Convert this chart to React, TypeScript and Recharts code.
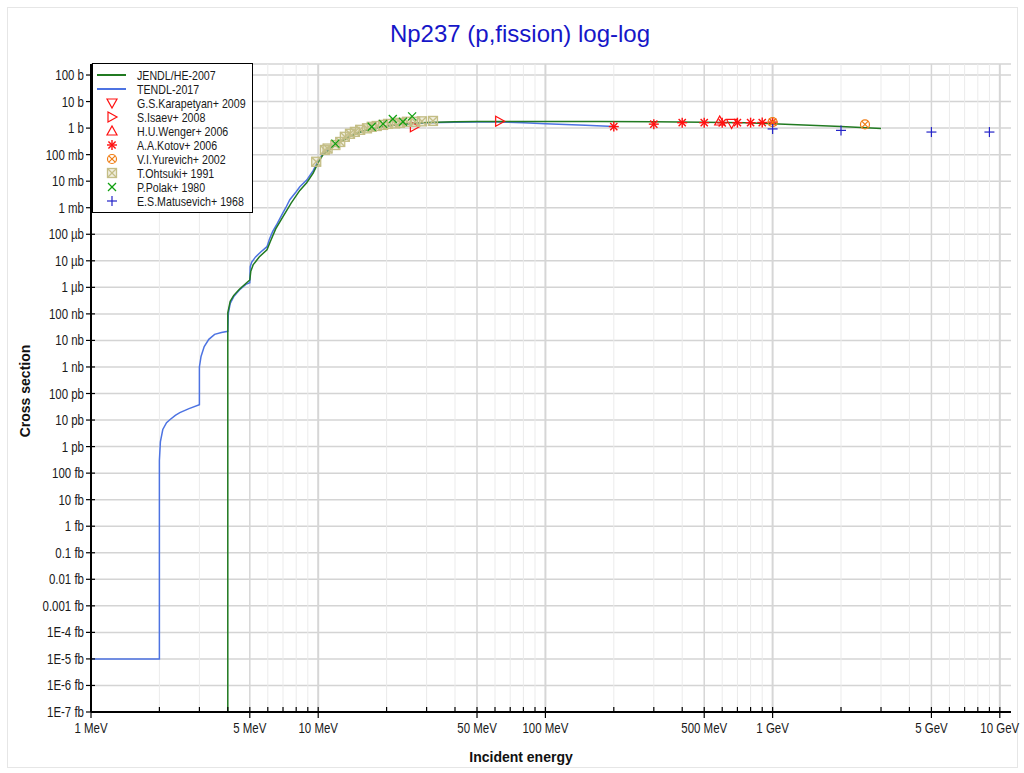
import React from 'react';
import { ComposedChart, Line, Scatter, XAxis, YAxis, CartesianGrid, ReferenceLine, Legend } from 'recharts';

const SANS = '"Liberation Sans", Arial, Helvetica, sans-serif';
const NARROW_SCALE = 0.82;

// ---- axis ticks (energy in MeV, cross section in barns) ----
const xMajorTicks = [1, 5, 10, 50, 100, 500, 1000, 5000, 10000];
const xMajorLabels = ['1 MeV', '5 MeV', '10 MeV', '50 MeV', '100 MeV', '500 MeV', '1 GeV', '5 GeV', '10 GeV'];
const xDecadeTicks = [10, 100, 1000, 10000];
const xMinorTicks = [2, 3, 4, 6, 7, 8, 9, 20, 30, 40, 60, 70, 80, 90, 200, 300, 400, 600, 700, 800, 900, 2000, 3000, 4000, 6000, 7000, 8000, 9000];
const xAllTicks = [...xMajorTicks, ...xMinorTicks].sort((a, b) => a - b);

const yTicks = [1e2, 1e1, 1, 1e-1, 1e-2, 1e-3, 1e-4, 1e-5, 1e-6, 1e-7, 1e-8, 1e-9, 1e-10, 1e-11, 1e-12, 1e-13, 1e-14, 1e-15, 1e-16, 1e-17, 1e-18, 1e-19, 1e-20, 1e-21, 1e-22];
const yTickLabels = ['100 b', '10 b', '1 b', '100 mb', '10 mb', '1 mb', '100 µb', '10 µb', '1 µb', '100 nb', '10 nb', '1 nb', '100 pb', '10 pb', '1 pb', '100 fb', '10 fb', '1 fb', '0.1 fb', '0.01 fb', '0.001 fb', '1E-4 fb', '1E-5 fb', '1E-6 fb', '1E-7 fb'];

const xDomain = [1, 11200];
const yDomain = [1e-22, 260];

// ---- evaluated data ----
const tendlE = [1, 2, 2, 2.02, 2.07, 2.15, 2.23, 2.35, 2.46, 2.7, 3, 3, 3.05, 3.15, 3.3, 3.5, 3.75, 4, 4.02, 4.1, 4.25, 4.5, 4.8, 5, 5.02, 5.1, 5.3, 5.6, 5.95, 6.1, 6.3, 6.6, 7, 7.2, 7.5, 8, 8.3, 8.9, 9.5, 10, 10.5, 11.6, 12.5, 13.8, 15, 16.4, 19.2, 22, 26, 30, 40, 50, 60, 80, 100, 150, 200];
const tendlXS = [1e-20, 1e-20, 3e-13, 1.5e-12, 4.4e-12, 8e-12, 1.05e-11, 1.5e-11, 1.9e-11, 2.7e-11, 3.8e-11, 1.0e-9, 2.5e-9, 5.9e-9, 1.1e-8, 1.7e-8, 2.0e-8, 2.2e-8, 1.0e-7, 2.5e-7, 4.5e-7, 8e-7, 1.3e-6, 1.5e-6, 6e-6, 9e-6, 1.4e-5, 2.2e-5, 3.4e-5, 6.5e-5, 1.26e-4, 2.5e-4, 6.5e-4, 1.0e-3, 2.0e-3, 4.0e-3, 6.2e-3, 1.1e-2, 2.5e-2, 0.058, 0.11, 0.21, 0.32, 0.5, 0.68, 0.86, 1.15, 1.33, 1.48, 1.58, 1.67, 1.7, 1.7, 1.6, 1.45, 1.28, 1.15];

const jendlE = [4, 4, 4.1, 4.25, 4.5, 4.8, 5, 5.05, 5.17, 5.5, 5.95, 6.15, 6.5, 7, 7.6, 8.3, 8.9, 9.5, 10, 10.5, 11.6, 12.5, 13.8, 15, 16.4, 19.2, 22, 26, 30, 40, 50, 70, 100, 174, 300, 500, 765, 1000, 2000, 3000];
const jendlXS = [1e-22, 1.1e-7, 3e-7, 5e-7, 8.5e-7, 1.4e-6, 1.9e-6, 4e-6, 7e-6, 1.4e-5, 2.6e-5, 5.2e-5, 1.6e-4, 4.6e-4, 1.5e-3, 4.5e-3, 8.7e-3, 0.02, 0.05, 0.1, 0.19, 0.3, 0.48, 0.67, 0.85, 1.15, 1.35, 1.52, 1.62, 1.72, 1.76, 1.78, 1.77, 1.77, 1.72, 1.66, 1.6, 1.45, 1.15, 0.97];

// ---- experimental data ----
const karapetyanE = [660];
const karapetyanXS = [1.5];
const isaevE = [26.5, 62.9];
const isaevXS = [1.12, 1.8];
const wengerE = [585];
const wengerXS = [1.85];
const kotovE = [200, 300, 400, 500, 600, 700, 800, 900, 1000];
const kotovXS = [1.14, 1.41, 1.6, 1.6, 1.58, 1.6, 1.6, 1.62, 1.68];
const yurevichE = [1000, 2550];
const yurevichXS = [1.68, 1.38];
const ohtsukiE = [9.8, 10.7, 11.0, 11.9, 12.5, 13.1, 13.8, 14.5, 15.3, 16.4, 17.2, 18.1, 19.3, 20.3, 21.8, 22.9, 24.6, 26.7, 28.6, 32.0];
const ohtsukiXS = [0.054, 0.15, 0.17, 0.23, 0.3, 0.47, 0.61, 0.72, 0.86, 0.98, 1.12, 1.2, 1.32, 1.44, 1.5, 1.58, 1.73, 1.73, 1.8, 1.86];
const polakE = [11.9, 17.2, 19.3, 21.3, 23.6, 25.9];
const polakXS = [0.26, 1.12, 1.44, 2.2, 1.73, 2.76];
const matusevichE = [1000, 2000, 5000, 9000];
const matusevichXS = [0.93, 0.82, 0.71, 0.71];

const pts = (xs: number[], ys: number[]) => xs.map((x, i) => ({ x, y: ys[i] }));

const GREEN = '#217a21';
const BLUE = '#4d73e2';
const RED = '#ff1010';
const ORANGE = '#f07d14';
const KHAKI = '#c4be86';
const LGREEN = '#10a010';
const DBLUE = '#2424c8';

type MarkerKind = 'triDown' | 'triRight' | 'triUp' | 'star' | 'circX' | 'sqX' | 'cross' | 'plus';

function Marker({ kind, cx, cy }: { kind: MarkerKind; cx: number; cy: number }) {
  const s = 5;
  switch (kind) {
    case 'triDown':
      return <polygon points={`${cx - s},${cy - s + 1} ${cx + s},${cy - s + 1} ${cx},${cy + s}`} fill="none" stroke={RED} strokeWidth={1.2} />;
    case 'triRight':
      return <polygon points={`${cx - s + 1},${cy - s} ${cx - s + 1},${cy + s} ${cx + s},${cy}`} fill="none" stroke={RED} strokeWidth={1.2} />;
    case 'triUp':
      return <polygon points={`${cx - s},${cy + s - 1} ${cx + s},${cy + s - 1} ${cx},${cy - s}`} fill="none" stroke={RED} strokeWidth={1.2} />;
    case 'star':
      return (
        <g stroke={RED} strokeWidth={1.4}>
          <line x1={cx - s} y1={cy} x2={cx + s} y2={cy} />
          <line x1={cx} y1={cy - s} x2={cx} y2={cy + s} />
          <line x1={cx - 3.6} y1={cy - 3.6} x2={cx + 3.6} y2={cy + 3.6} />
          <line x1={cx - 3.6} y1={cy + 3.6} x2={cx + 3.6} y2={cy - 3.6} />
        </g>
      );
    case 'circX':
      return (
        <g stroke={ORANGE} strokeWidth={1.2} fill="none">
          <circle cx={cx} cy={cy} r={s - 0.5} />
          <line x1={cx - 3.2} y1={cy - 3.2} x2={cx + 3.2} y2={cy + 3.2} />
          <line x1={cx - 3.2} y1={cy + 3.2} x2={cx + 3.2} y2={cy - 3.2} />
        </g>
      );
    case 'sqX':
      return (
        <g stroke={KHAKI} strokeWidth={1.3} fill="rgba(205,200,150,0.3)">
          <rect x={cx - s + 0.5} y={cy - s + 0.5} width={2 * s - 1} height={2 * s - 1} />
          <line x1={cx - s + 0.5} y1={cy - s + 0.5} x2={cx + s - 0.5} y2={cy + s - 0.5} />
          <line x1={cx - s + 0.5} y1={cy + s - 0.5} x2={cx + s - 0.5} y2={cy - s + 0.5} />
        </g>
      );
    case 'cross':
      return (
        <g stroke={LGREEN} strokeWidth={1.2}>
          <line x1={cx - 4} y1={cy - 4} x2={cx + 4} y2={cy + 4} />
          <line x1={cx - 4} y1={cy + 4} x2={cx + 4} y2={cy - 4} />
        </g>
      );
    case 'plus':
    default:
      return (
        <g stroke={DBLUE} strokeWidth={1.2}>
          <line x1={cx - s} y1={cy} x2={cx + s} y2={cy} />
          <line x1={cx} y1={cy - s} x2={cx} y2={cy + s} />
        </g>
      );
  }
}

const shapeOf = (kind: MarkerKind) => (props: any) => <Marker kind={kind} cx={props.cx} cy={props.cy} />;

const expSeries: { name: string; kind: MarkerKind; e: number[]; xs: number[] }[] = [
  { name: 'G.S.Karapetyan+ 2009', kind: 'triDown', e: karapetyanE, xs: karapetyanXS },
  { name: 'S.Isaev+ 2008', kind: 'triRight', e: isaevE, xs: isaevXS },
  { name: 'H.U.Wenger+ 2006', kind: 'triUp', e: wengerE, xs: wengerXS },
  { name: 'A.A.Kotov+ 2006', kind: 'star', e: kotovE, xs: kotovXS },
  { name: 'V.I.Yurevich+ 2002', kind: 'circX', e: yurevichE, xs: yurevichXS },
  { name: 'T.Ohtsuki+ 1991', kind: 'sqX', e: ohtsukiE, xs: ohtsukiXS },
  { name: 'P.Polak+ 1980', kind: 'cross', e: polakE, xs: polakXS },
  { name: 'E.S.Matusevich+ 1968', kind: 'plus', e: matusevichE, xs: matusevichXS },
];

// narrow text: Liberation Sans squeezed horizontally
function NText({ x, y, anchor, size, children }: { x: number; y: number; anchor: 'start' | 'middle' | 'end'; size: number; children: React.ReactNode }) {
  return (
    <text
      transform={`translate(${x},${y}) scale(${NARROW_SCALE},1)`}
      x={0}
      y={0}
      textAnchor={anchor}
      fontSize={size}
      fontFamily={SANS}
      fill="#1a1a1a"
    >
      {children}
    </text>
  );
}

function XTick(props: any) {
  const { x, y, payload } = props;
  const v = payload.value;
  const idx = xMajorTicks.indexOf(v);
  const major = idx >= 0;
  return (
    <g>
      <line x1={x} x2={x} y1={y - 5} y2={major ? y + 6 : y} stroke="#000" strokeWidth={1.2} />
      {major && (
        <NText x={x} y={y + 21} anchor="middle" size={14}>
          {xMajorLabels[idx]}
        </NText>
      )}
    </g>
  );
}

function YTick(props: any) {
  const { x, y, payload } = props;
  const exp = Math.round(Math.log10(payload.value));
  const label = yTickLabels[2 - exp];
  return (
    <g>
      <line x1={x + 2} x2={x + 11} y1={y} y2={y} stroke="#000" strokeWidth={1.2} />
      <NText x={x} y={y + 5} anchor="end" size={14}>
        {label}
      </NText>
    </g>
  );
}

function LegendBox() {
  const rows: { name: string; line?: string; kind?: MarkerKind }[] = [
    { name: 'JENDL/HE-2007', line: GREEN },
    { name: 'TENDL-2017', line: BLUE },
    ...expSeries.map((s) => ({ name: s.name, kind: s.kind })),
  ];
  return (
    <div style={{ width: 161, height: 150, border: '1px solid #000', background: '#fff', boxSizing: 'border-box' }}>
      <svg width={159} height={148} style={{ display: 'block' }}>
        {rows.map((r, i) => {
          const cy = 11 + i * 14;
          return (
            <g key={r.name}>
              {r.line ? (
                <line x1={4} x2={33} y1={cy} y2={cy} stroke={r.line} strokeWidth={2} />
              ) : (
                <Marker kind={r.kind as MarkerKind} cx={19} cy={cy} />
              )}
              <NText x={44} y={cy + 4.5} anchor="start" size={13}>
                {r.name}
              </NText>
            </g>
          );
        })}
      </svg>
    </div>
  );
}

export default function App() {
  const tendl = pts(tendlE, tendlXS);
  const jendl = pts(jendlE, jendlXS);
  return (
    <div style={{ position: 'absolute', left: 0, top: 0, width: 1024, height: 773, background: '#fff', overflow: 'hidden' }}>
      <div style={{ position: 'absolute', left: 7, top: 7, width: 1009, height: 759, border: '1px solid #e6e6e6' }} />
      <div style={{ position: 'absolute', left: 0, top: 0 }}>
        <ComposedChart width={1024} height={773} margin={{ top: 64, right: 13, bottom: 0, left: 0 }}>
          <CartesianGrid vertical={false} stroke="#d4d4d4" strokeWidth={1.5} />
          {xMinorTicks.map((v) => (
            <ReferenceLine key={'mn' + v} x={v} stroke="#ebebeb" strokeWidth={1} />
          ))}
          {xMajorTicks.filter((v) => v > 1).map((v) => (
            <ReferenceLine key={'mj' + v} x={v} stroke="#d6d6d6" strokeWidth={xDecadeTicks.includes(v) ? 2 : 1.5} />
          ))}
          <XAxis
            dataKey="x"
            type="number"
            scale="log"
            domain={xDomain}
            allowDataOverflow
            ticks={xAllTicks}
            interval={0}
            tick={(p: any) => <XTick {...p} />}
            tickLine={false}
            tickSize={0}
            tickMargin={0}
            height={61}
            axisLine={{ stroke: '#000', strokeWidth: 2 }}
          />
          <XAxis
            xAxisId="top"
            orientation="top"
            dataKey="x"
            type="number"
            scale="log"
            domain={xDomain}
            allowDataOverflow
            ticks={xAllTicks}
            interval={0}
            tick={false}
            mirror
            tickSize={4}
            height={0}
            tickLine={{ stroke: '#000' }}
            axisLine={{ stroke: '#000', strokeWidth: 1.5 }}
          />
          <YAxis
            dataKey="y"
            type="number"
            scale="log"
            domain={yDomain}
            allowDataOverflow
            ticks={yTicks}
            interval={0}
            tick={(p: any) => <YTick {...p} />}
            tickLine={false}
            tickSize={5}
            tickMargin={2}
            width={91}
            axisLine={{ stroke: '#000', strokeWidth: 2 }}
          />
          <YAxis
            yAxisId="right"
            orientation="right"
            dataKey="y"
            type="number"
            scale="log"
            domain={yDomain}
            allowDataOverflow
            ticks={yTicks}
            interval={0}
            tick={false}
            mirror
            tickSize={4}
            width={0}
            tickLine={{ stroke: '#000' }}
            axisLine={{ stroke: '#000', strokeWidth: 1.5 }}
          />
          {expSeries.map((s) => (
            <Scatter key={s.name} name={s.name} data={pts(s.e, s.xs)} shape={shapeOf(s.kind)} isAnimationActive={false} />
          ))}
          <Line data={tendl} dataKey="y" name="TENDL-2017" type="linear" stroke={BLUE} strokeWidth={1.5} dot={false} activeDot={false} isAnimationActive={false} />
          <Line data={jendl} dataKey="y" name="JENDL/HE-2007" type="linear" stroke={GREEN} strokeWidth={1.5} dot={false} activeDot={false} isAnimationActive={false} />
          <Legend
            layout="vertical"
            align="center"
            verticalAlign="middle"
            content={() => <LegendBox />}
            wrapperStyle={{ left: 92, top: 63, width: 161, height: 150, margin: 0, padding: 0 }}
          />
        </ComposedChart>
      </div>
      <div
        style={{
          position: 'absolute', left: 0, width: 1040, top: 21, textAlign: 'center',
          fontFamily: SANS, fontSize: 24, lineHeight: '26px', color: '#1616c8', whiteSpace: 'nowrap',
        }}
      >
        Np237 (p,fission) log-log
      </div>
      <div
        style={{
          position: 'absolute', left: 0, width: 1042, top: 749, textAlign: 'center',
          fontFamily: SANS, fontSize: 14, fontWeight: 'bold', lineHeight: '16px', color: '#111', whiteSpace: 'nowrap',
        }}
      >
        Incident energy
      </div>
      <div style={{ position: 'absolute', left: 25, top: 391, width: 0, height: 0 }}>
        <div
          style={{
            position: 'absolute', left: -100, top: -8, width: 200, textAlign: 'center', transform: 'rotate(-90deg)',
            fontFamily: SANS, fontSize: 14, fontWeight: 'bold', lineHeight: '16px', color: '#111', whiteSpace: 'nowrap',
          }}
        >
          Cross section
        </div>
      </div>
    </div>
  );
}
